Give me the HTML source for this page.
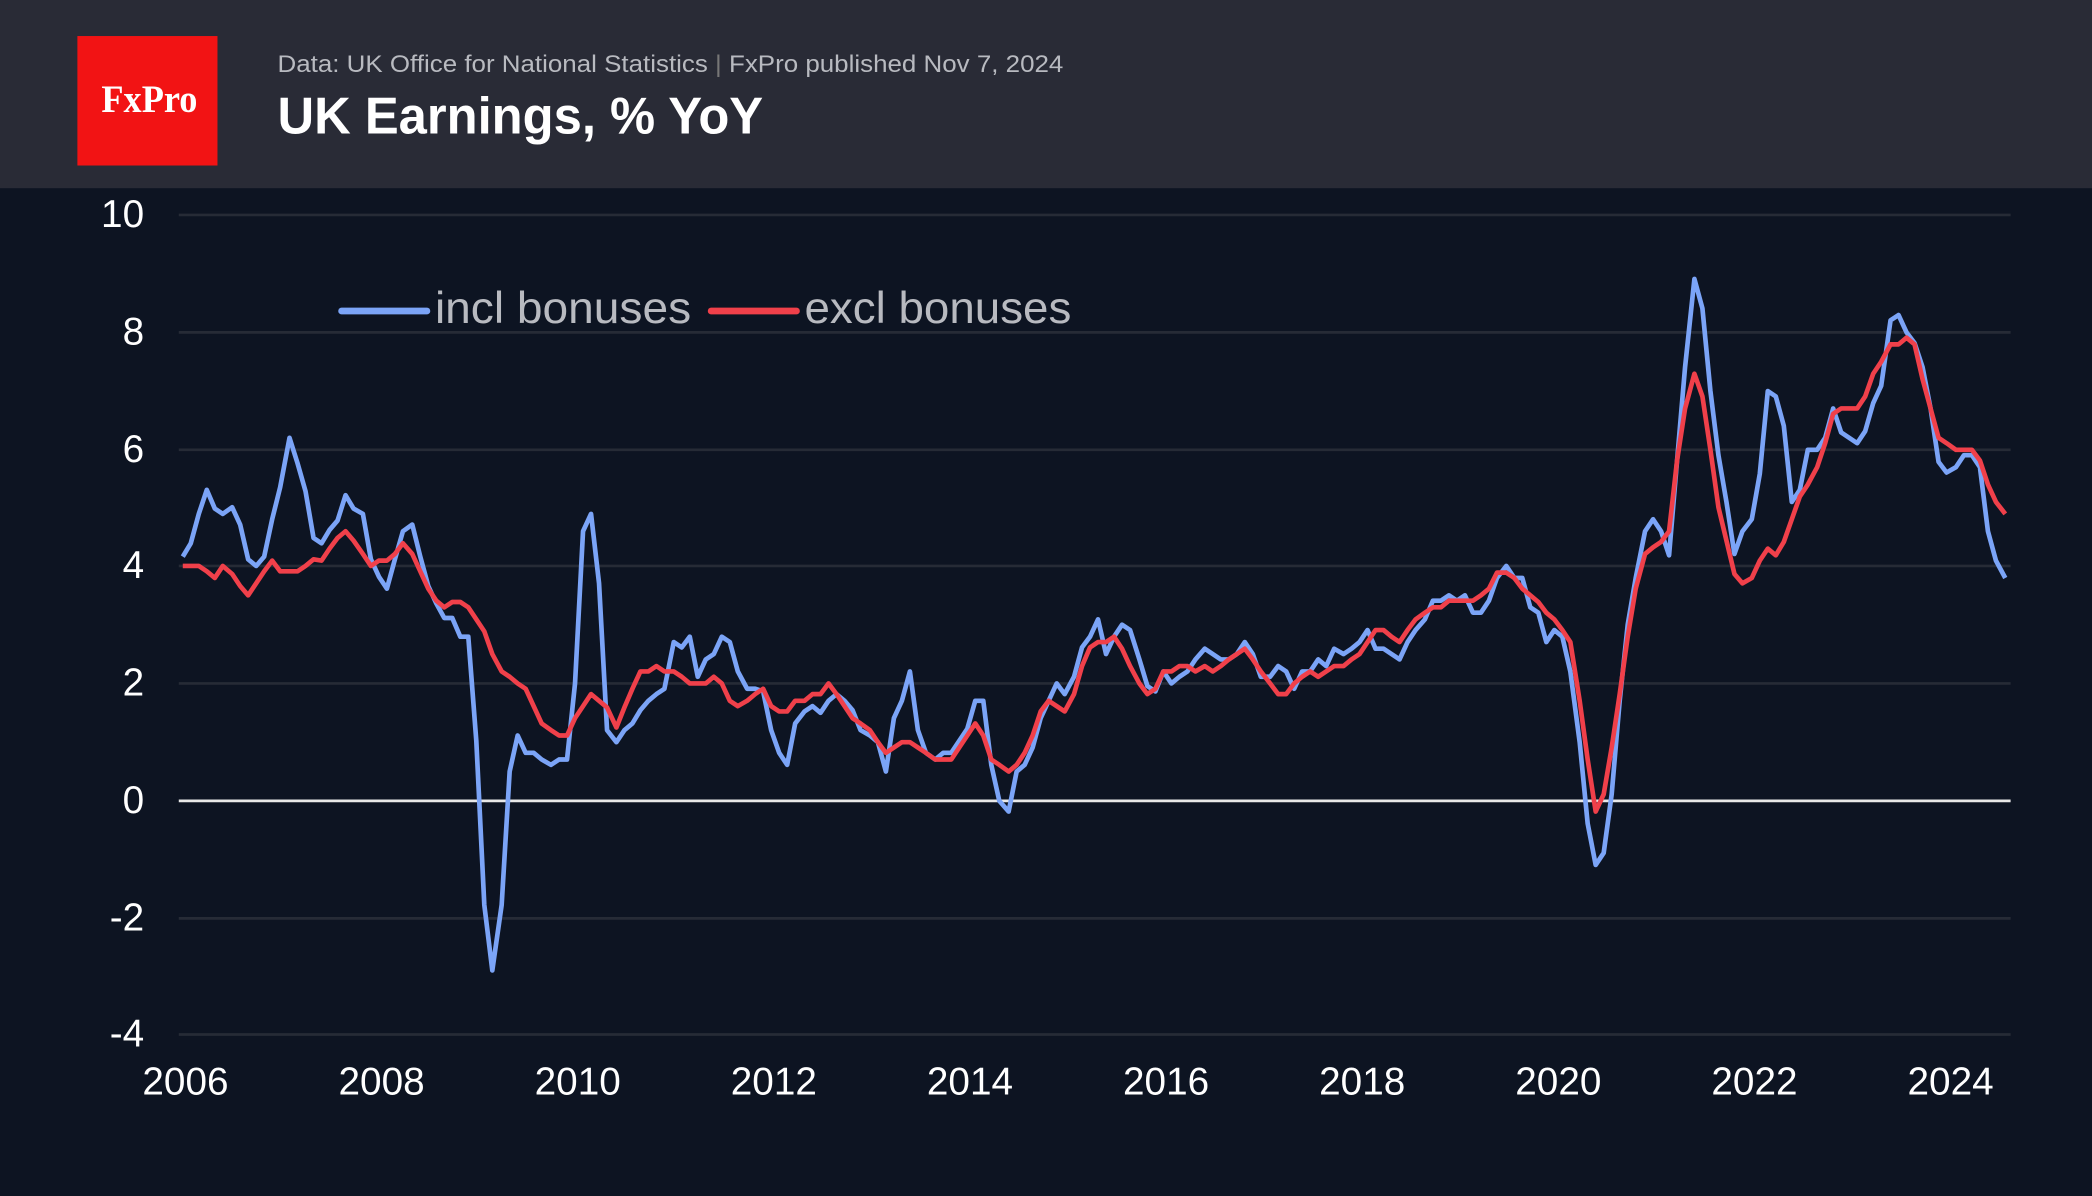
<!DOCTYPE html>
<html><head><meta charset="utf-8"><style>
html,body{margin:0;padding:0;background:#0d1422;}
svg{display:block;}
text{font-family:"Liberation Sans",sans-serif;}
</style></head><body>
<svg width="2092" height="1196" viewBox="0 0 1568 896" preserveAspectRatio="none" xmlns="http://www.w3.org/2000/svg">
<rect x="0" y="0" width="1568" height="896" fill="#0d1422"/>
<rect x="0" y="0" width="1568" height="141" fill="#292b36"/>
<rect x="58" y="27" width="105" height="97" fill="#f21314"/>
<text x="112" y="84" fill="#fff" font-size="29" font-weight="bold" text-anchor="middle" textLength="72" lengthAdjust="spacingAndGlyphs" style="font-family:'Liberation Serif',serif">FxPro</text>
<text x="208" y="54" fill="#b8bac0" font-size="18" textLength="589" lengthAdjust="spacingAndGlyphs">Data: UK Office for National Statistics <tspan fill="#777">|</tspan> FxPro published Nov 7, 2024</text>
<text x="208" y="100" fill="#fff" font-size="39" font-weight="bold" textLength="364" lengthAdjust="spacingAndGlyphs">UK Earnings, % YoY</text>
<g stroke="#262b36" stroke-width="2">
<line x1="134" y1="161" x2="1507" y2="161"/>
<line x1="134" y1="249" x2="1507" y2="249"/>
<line x1="134" y1="337" x2="1507" y2="337"/>
<line x1="134" y1="424" x2="1507" y2="424"/>
<line x1="134" y1="512" x2="1507" y2="512"/>
<line x1="134" y1="688" x2="1507" y2="688"/>
<line x1="134" y1="775" x2="1507" y2="775"/>
</g>
<line x1="134" y1="600" x2="1507" y2="600" stroke="#e8e8e8" stroke-width="2"/>
<g fill="#fff" font-size="29" text-anchor="end">
<text x="108" y="170">10</text><text x="108" y="258">8</text><text x="108" y="346">6</text>
<text x="108" y="433">4</text><text x="108" y="521">2</text><text x="108" y="609">0</text>
<text x="108" y="697">-2</text><text x="108" y="784">-4</text>
</g>
<g fill="#fff" font-size="29" text-anchor="middle">
<text x="139" y="820">2006</text><text x="286" y="820">2008</text><text x="433" y="820">2010</text>
<text x="580" y="820">2012</text><text x="727" y="820">2014</text><text x="874" y="820">2016</text>
<text x="1021" y="820">2018</text><text x="1168" y="820">2020</text><text x="1315" y="820">2022</text>
<text x="1462" y="820">2024</text>
</g>
<line x1="256" y1="233" x2="320" y2="233" stroke="#7ba4f7" stroke-width="5" stroke-linecap="round"/>
<text x="326" y="242" fill="#b8bac0" font-size="33" textLength="192" lengthAdjust="spacingAndGlyphs">incl bonuses</text>
<line x1="533" y1="233" x2="597" y2="233" stroke="#f0404a" stroke-width="5" stroke-linecap="round"/>
<text x="603" y="242" fill="#b8bac0" font-size="33" textLength="200" lengthAdjust="spacingAndGlyphs">excl bonuses</text>
<polyline fill="none" stroke="#7ba4f7" stroke-width="3.5" stroke-linejoin="round" points="137,417 143,407 149,385 155,367 161,381 167,385 174,380 180,393 186,419 192,424 198,417 204,389 210,365 217,328 223,347 229,368 235,403 241,407 247,397 253,390 259,371 265,381 272,385 278,419 284,432 290,441 296,419 302,398 309,393 315,417 321,439 327,452 333,463 339,463 345,477 351,477 357,555 363,678 369,727 376,678 382,578 388,551 394,564 400,564 406,569 413,573 419,569 425,569 431,512 437,398 443,385 449,437 455,547 462,556 468,547 474,542 480,532 486,525 492,520 498,516 505,481 511,485 517,477 523,507 529,494 535,490 541,477 547,481 553,503 560,516 566,516 572,518 578,547 584,564 590,573 596,542 603,533 609,529 615,534 621,525 627,520 633,525 639,532 645,547 652,551 658,556 664,578 670,538 676,525 682,503 688,547 694,564 701,569 707,564 713,564 719,555 725,546 731,525 737,525 743,573 749,600 756,608 762,578 768,573 774,560 780,538 786,525 792,512 798,520 805,507 811,485 817,477 823,464 829,490 835,477 841,468 847,472 854,494 860,514 866,518 872,503 878,512 884,507 890,503 896,494 903,486 909,490 915,494 921,494 927,490 933,481 939,490 945,507 952,507 958,499 964,503 970,516 976,503 982,503 988,494 994,499 1000,486 1007,490 1013,486 1019,481 1025,472 1031,486 1037,486 1043,490 1049,494 1055,481 1061,472 1068,464 1074,450 1080,450 1086,446 1092,450 1098,446 1104,459 1110,459 1116,450 1122,433 1129,424 1135,433 1141,433 1147,455 1153,459 1159,481 1165,472 1171,477 1177,503 1184,556 1190,617 1196,648 1202,639 1208,595 1214,525 1220,468 1226,433 1233,398 1239,389 1245,398 1251,416 1257,345 1263,275 1270,209 1276,231 1282,293 1288,341 1294,376 1300,415 1306,398 1313,389 1319,355 1325,293 1331,297 1337,319 1343,376 1349,367 1355,337 1362,337 1368,328 1374,306 1380,324 1386,328 1392,332 1398,323 1404,302 1410,289 1417,240 1423,236 1429,249 1435,257 1441,275 1447,306 1453,346 1459,354 1466,350 1472,341 1478,341 1484,350 1490,398 1496,420 1503,433"/>
<polyline fill="none" stroke="#f0404a" stroke-width="3.5" stroke-linejoin="round" points="137,424 149,424 155,428 161,433 167,424 174,430 180,439 186,446 192,437 198,428 204,420 210,428 223,428 229,424 235,419 241,420 247,411 253,403 259,398 265,405 272,415 278,424 284,420 290,420 296,415 302,407 309,415 315,428 321,441 327,450 333,455 339,451 345,451 351,455 357,464 363,473 369,490 376,503 382,507 388,512 394,516 400,529 406,542 413,547 419,551 425,551 431,538 437,529 443,520 449,525 455,530 462,545 468,530 474,516 480,503 486,503 492,499 498,503 505,503 511,507 517,512 523,512 529,512 535,507 541,512 547,525 553,529 560,525 566,520 572,516 578,529 584,533 590,533 596,525 603,525 609,520 615,520 621,512 627,520 633,529 639,538 645,542 652,547 658,556 664,564 670,560 676,556 682,556 688,560 694,564 701,569 707,569 713,569 719,560 725,551 731,542 737,551 743,569 749,573 756,578 762,573 768,564 774,551 780,533 786,525 792,529 798,533 805,520 811,499 817,485 823,481 829,481 835,477 841,486 847,499 854,512 860,520 866,516 872,503 878,503 884,499 890,499 896,503 903,499 909,503 915,499 921,494 927,490 933,486 939,494 945,503 952,512 958,520 964,520 970,512 976,507 982,503 988,507 994,503 1000,499 1007,499 1013,494 1019,490 1025,481 1031,472 1037,472 1043,477 1049,481 1055,472 1061,464 1068,459 1074,455 1080,455 1086,450 1092,450 1098,450 1104,450 1110,446 1116,441 1122,429 1129,429 1135,433 1141,441 1147,446 1153,451 1159,459 1165,464 1171,472 1177,481 1184,525 1190,569 1196,608 1202,595 1208,560 1214,520 1220,477 1226,441 1233,415 1239,410 1245,406 1251,398 1257,345 1263,306 1270,280 1276,297 1282,337 1288,380 1294,405 1300,430 1306,437 1313,433 1319,420 1325,411 1331,416 1337,406 1343,389 1349,372 1355,363 1362,350 1368,332 1374,310 1380,306 1386,306 1392,306 1398,297 1404,280 1410,271 1417,258 1423,258 1429,253 1435,258 1441,284 1447,306 1453,328 1459,332 1466,337 1472,337 1478,337 1484,345 1490,363 1496,376 1503,385"/>
</svg>
</body></html>
